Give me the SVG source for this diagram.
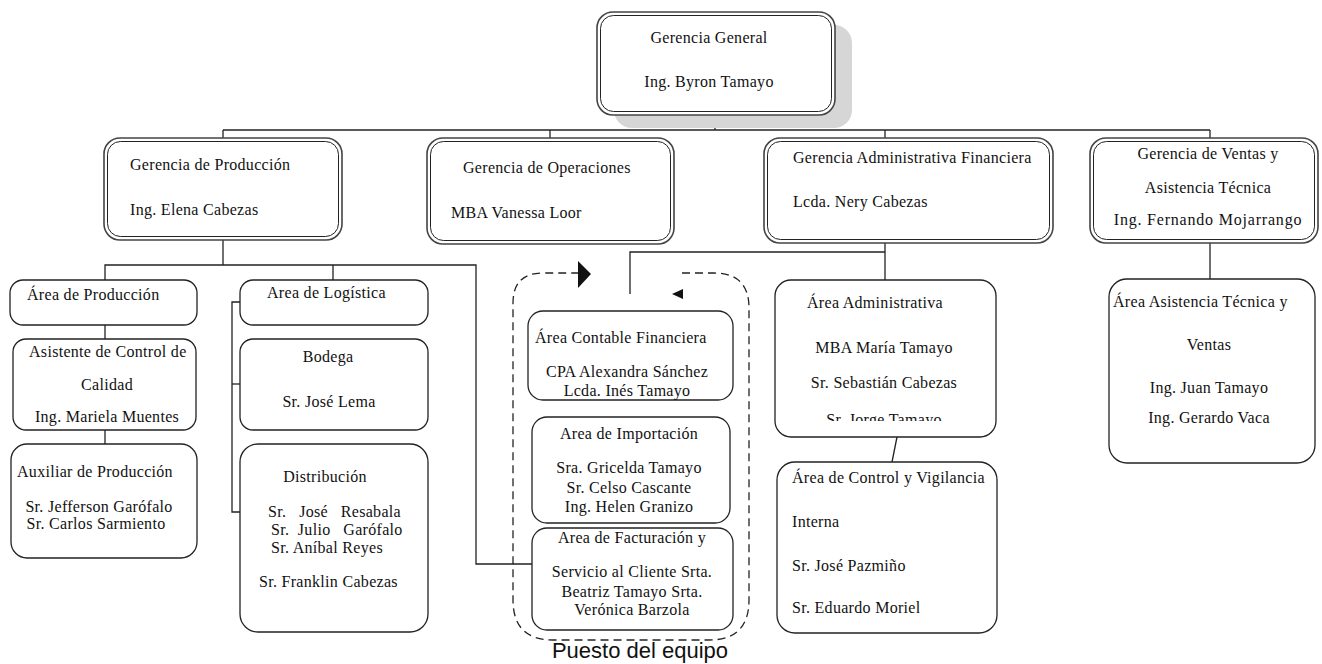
<svg xmlns="http://www.w3.org/2000/svg" width="1322" height="664" viewBox="0 0 1322 664">
<style>
text{font-family:"Liberation Serif","Times New Roman",serif;font-size:16px;fill:#111;letter-spacing:0.3px}
.c{text-anchor:middle}
.box{fill:#fff;stroke:#222;stroke-width:1.3}
.outer{fill:#fff;stroke:#444;stroke-width:1.6}
.inner{fill:none;stroke:#222;stroke-width:1}
.ln{fill:none;stroke:#222;stroke-width:1.3}
.dash{fill:none;stroke:#222;stroke-width:1.3;stroke-dasharray:8 5}
.sans{font-family:"Liberation Sans",Arial,sans-serif;font-size:22px;letter-spacing:0}
</style>
<defs>
<clipPath id="clipAdm"><rect x="775" y="280" width="222" height="141"/></clipPath>
</defs>

<g id="connectors">
<line class="ln" x1="715" y1="115" x2="715" y2="130"/>
<line class="ln" x1="223" y1="130" x2="1210" y2="130"/>
<line class="ln" x1="223" y1="130" x2="223" y2="138"/>
<line class="ln" x1="550" y1="130" x2="550" y2="138"/>
<line class="ln" x1="885" y1="130" x2="885" y2="138"/>
<line class="ln" x1="1210" y1="130" x2="1210" y2="138"/>
<polyline class="ln" points="223,240 223,265"/>
<polyline class="ln" points="105,280 105,265 476,265 476,564 532,564"/>
<line class="ln" x1="333" y1="265" x2="333" y2="280"/>
<line class="ln" x1="105" y1="325" x2="105" y2="339"/>
<line class="ln" x1="105" y1="430" x2="105" y2="444"/>
<polyline class="ln" points="240,302 232,302 232,512 240,512"/>
<line class="ln" x1="232" y1="384" x2="240" y2="384"/>
<line class="ln" x1="885" y1="243" x2="885" y2="280"/>
<polyline class="ln" points="630,294 630,252 885,252"/>
<line class="ln" x1="897" y1="437" x2="892" y2="462"/>
<line class="ln" x1="1210" y1="243" x2="1210" y2="279"/>
</g>

<g id="n-general">
<rect x="614" y="25" width="238" height="103" rx="18" fill="#d6d6d6"/>
<rect class="outer" x="597" y="12" width="238" height="103" rx="16"/>
<rect class="inner" x="600.5" y="15.5" width="231" height="96" rx="13"/>
<text class="c" x="709" y="43">Gerencia General</text>
<text class="c" x="709" y="87">Ing. Byron Tamayo</text>
</g>

<g id="n-produccion">
<rect class="outer" x="104" y="138" width="238" height="102" rx="16"/>
<rect class="inner" x="107.5" y="141.5" width="231" height="95" rx="13"/>
<text x="130" y="170">Gerencia de Producción</text>
<text x="130" y="215">Ing. Elena Cabezas</text>
</g>

<g id="n-operaciones">
<rect class="outer" x="427" y="138" width="247" height="106" rx="16"/>
<rect class="inner" x="430.5" y="141.5" width="240" height="99" rx="13"/>
<text x="463" y="173">Gerencia de Operaciones</text>
<text x="451" y="218">MBA Vanessa Loor</text>
</g>

<g id="n-gaf">
<rect class="outer" x="764" y="138" width="289" height="105" rx="16"/>
<rect class="inner" x="767.5" y="141.5" width="282" height="98" rx="13"/>
<text x="793" y="163">Gerencia Administrativa Financiera</text>
<text x="793" y="207">Lcda. Nery Cabezas</text>
</g>

<g id="n-ventas">
<rect class="outer" x="1090" y="138" width="228" height="105" rx="16"/>
<rect class="inner" x="1093.5" y="141.5" width="221" height="98" rx="13"/>
<text class="c" x="1208" y="159">Gerencia de Ventas y</text>
<text class="c" x="1208" y="193">Asistencia Técnica</text>
<text class="c" x="1208" y="225" style="letter-spacing:0.8px">Ing. Fernando Mojarrango</text>
</g>

<g id="n-area-produccion">
<rect class="box" x="10" y="280" width="187" height="45" rx="13"/>
<text x="27" y="300">Área de Producción</text>
</g>

<g id="n-asistente-calidad">
<rect class="box" x="13" y="339" width="183" height="91" rx="13"/>
<text x="29" y="357">Asistente de Control de</text>
<text class="c" x="107" y="390">Calidad</text>
<text class="c" x="107" y="422">Ing. Mariela Muentes</text>
</g>

<g id="n-auxiliar">
<rect class="box" x="11" y="444" width="186" height="114" rx="16"/>
<text x="17" y="477">Auxiliar de Producción</text>
<text class="c" x="99" y="512">Sr. Jefferson Garófalo</text>
<text class="c" x="96" y="529">Sr. Carlos Sarmiento</text>
</g>

<g id="n-logistica">
<rect class="box" x="240" y="280" width="188" height="45" rx="13"/>
<text x="267" y="298">Area de Logística</text>
</g>

<g id="n-bodega">
<rect class="box" x="240" y="339" width="188" height="91" rx="13"/>
<text class="c" x="328" y="362">Bodega</text>
<text class="c" x="329" y="407">Sr. José Lema</text>
</g>

<g id="n-distribucion">
<rect class="box" x="240" y="444" width="188" height="188" rx="18"/>
<text class="c" x="325" y="482">Distribución</text>
<text x="268" y="517" xml:space="preserve">Sr.   José   Resabala</text>
<text x="271" y="535" xml:space="preserve">Sr.  Julio   Garófalo</text>
<text x="271" y="553">Sr. Aníbal Reyes</text>
<text x="259" y="587">Sr. Franklin Cabezas</text>
</g>

<g id="g-puesto-equipo">
<path class="dash" d="M682,273 H714 Q749,273 749,308 V600 Q749,640 709,640 H553 Q513,640 513,600 V303 Q513,273 543,273 H578"/>
<polygon points="578,261 591,274 578,288" fill="#111"/>
<polygon points="683,289 672,294 683,299" fill="#111"/>
<text class="sans c" x="640" y="658">Puesto del equipo</text>
</g>

<g id="n-contable">
<rect class="box" x="528" y="311" width="205" height="89" rx="15"/>
<text x="535" y="343">Área Contable Financiera</text>
<text class="c" x="627" y="377">CPA Alexandra Sánchez</text>
<text class="c" x="627" y="396">Lcda. Inés Tamayo</text>
</g>

<g id="n-importacion">
<rect class="box" x="532" y="417" width="198" height="106" rx="15"/>
<text class="c" x="629" y="439">Area de Importación</text>
<text class="c" x="629" y="473">Sra. Gricelda Tamayo</text>
<text class="c" x="629" y="493">Sr. Celso Cascante</text>
<text class="c" x="629" y="512">Ing. Helen Granizo</text>
</g>

<g id="n-facturacion">
<rect class="box" x="532" y="528" width="201" height="102" rx="15"/>
<text class="c" x="632" y="543">Area de Facturación y</text>
<text class="c" x="632" y="577">Servicio al Cliente Srta.</text>
<text class="c" x="632" y="597">Beatriz Tamayo Srta.</text>
<text class="c" x="632" y="615">Verónica Barzola</text>
</g>

<g id="n-administrativa">
<rect class="box" x="775" y="280" width="221" height="157" rx="16"/>
<text x="807" y="308">Área Administrativa</text>
<text class="c" x="884" y="353">MBA María Tamayo</text>
<text class="c" x="884" y="388">Sr. Sebastián Cabezas</text>
<text class="c" x="884" y="425" clip-path="url(#clipAdm)">Sr. Jorge Tamayo</text>
</g>

<g id="n-control">
<rect class="box" x="777" y="462" width="220" height="171" rx="18"/>
<text x="792" y="483">Área de Control y Vigilancia</text>
<text x="792" y="527">Interna</text>
<text x="792" y="571">Sr. José Pazmiño</text>
<text x="792" y="613">Sr. Eduardo Moriel</text>
</g>

<g id="n-asistencia">
<rect class="box" x="1109" y="279" width="206" height="184" rx="18"/>
<text x="1113" y="307">Área Asistencia Técnica y</text>
<text class="c" x="1209" y="350">Ventas</text>
<text class="c" x="1209" y="393">Ing. Juan Tamayo</text>
<text class="c" x="1209" y="423">Ing. Gerardo Vaca</text>
</g>
</svg>
